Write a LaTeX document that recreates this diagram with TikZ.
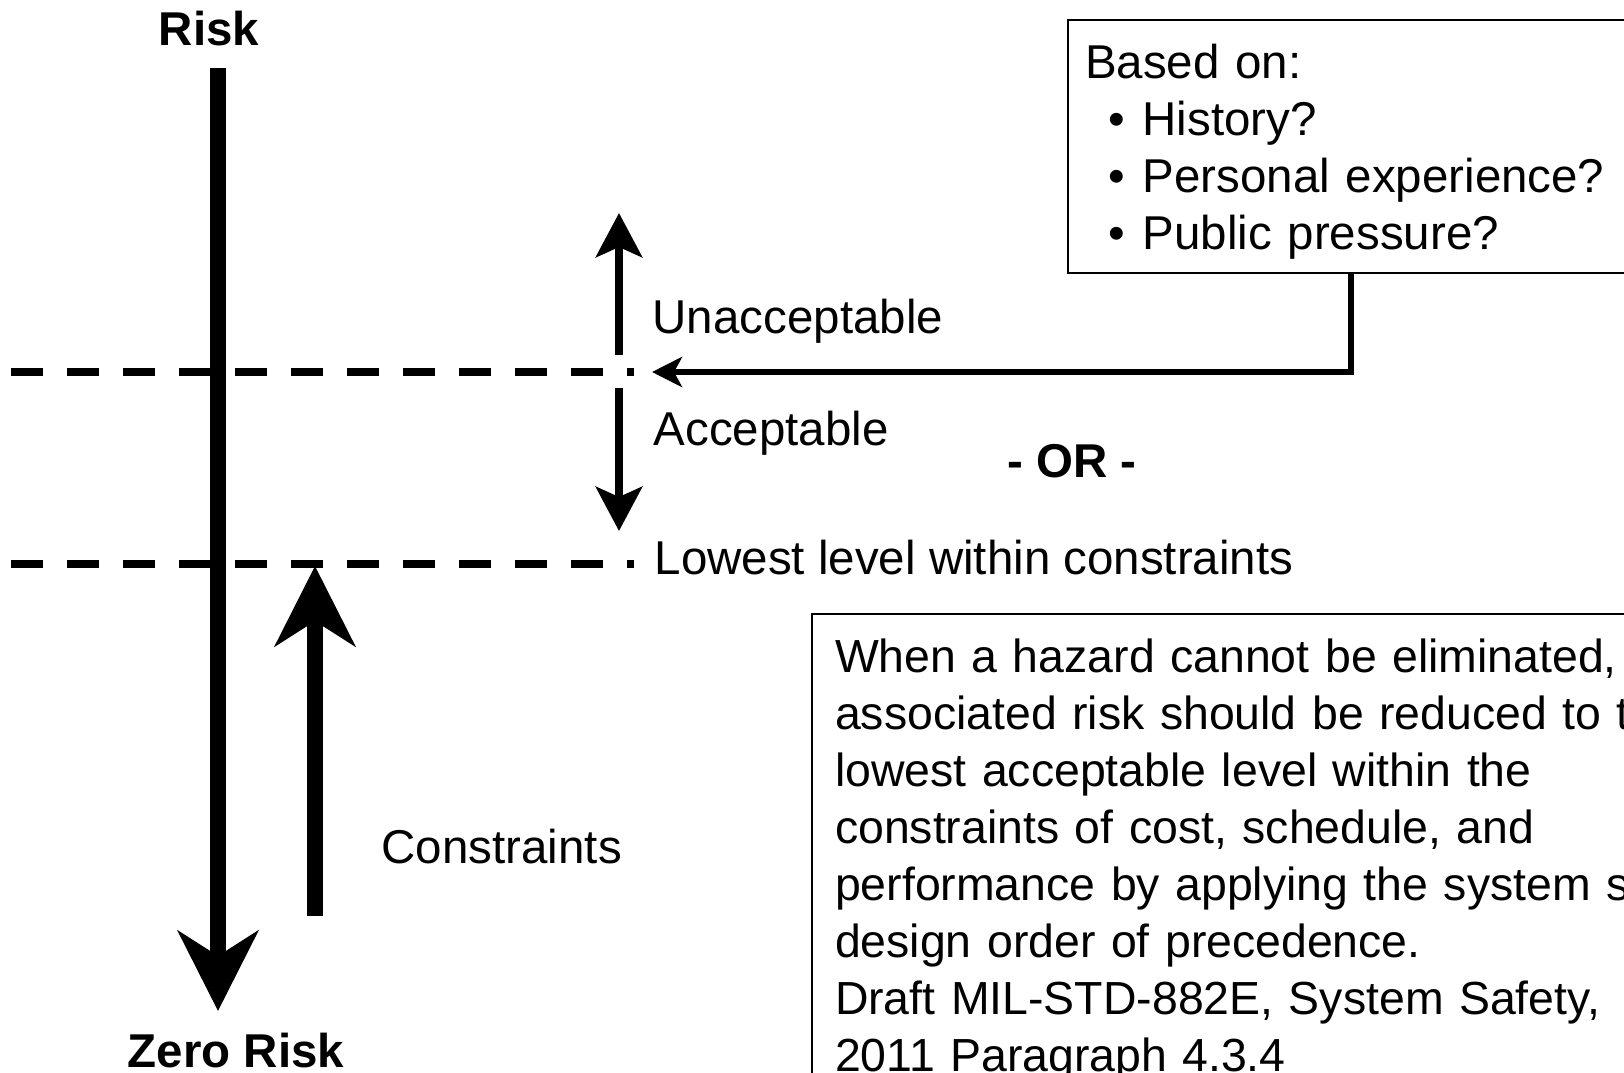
\documentclass[tikz,border=0pt]{standalone}
\usepackage{fontspec}
\setmainfont{Liberation Sans}
\usetikzlibrary{arrows.meta,positioning}

\begin{document}
\begin{tikzpicture}[x=0.01cm,y=-0.01cm,
  font=\fontsize{13.5pt}{0.57cm}\selectfont,
  bigarrow/.style={line width=0.16cm,-{Stealth[length=0.8cm,width=0.8cm,inset=0.25cm]}},
  midarrow/.style={line width=0.085cm,-{Stealth[length=0.44cm,width=0.46cm,inset=0.1cm]}},
  feed/.style={line width=0.06cm,-{Stealth[length=0.3cm,width=0.3cm,inset=0.08cm]}},
  level/.style={line width=0.08cm,dash pattern=on 0.32cm off 0.24cm},
  txt/.style={anchor=base west,inner sep=0pt},
  note/.style={draw,line width=0.02cm,anchor=north west,inner ysep=0pt,align=left}]
\useasboundingbox (0,0) rectangle (1624,1072);
\clip (0,0) rectangle (1624,1072);
\node[anchor=base,inner sep=0pt] (risk) at (209,45) {\bfseries Risk};
\node[anchor=base,inner sep=0pt] (zero) at (236,1067) {\bfseries Zero Risk};
\coordinate (rtop) at (218,68);
\coordinate (rbot) at (218,1011);
\coordinate (a1) at (11,372);
\coordinate (b1) at (634,372);
\coordinate (a2) at (11,564);
\coordinate (b2) at (634,564);
\draw[level] (a1) -- (b1);
\draw[level] (a2) -- (b2);
\draw[bigarrow] (rtop) -- (rbot);
\coordinate (cbot) at (315,916);
\coordinate (ctop) at (315,566);
\draw[bigarrow] (cbot) -- (ctop);
\node[txt] (constr) at (381,863) {Constraints};
\coordinate (u1) at (619,355);
\coordinate (u2) at (619,213);
\coordinate (d1) at (619,388);
\coordinate (d2) at (619,531);
\draw[midarrow] (u1) -- (u2);
\draw[midarrow] (d1) -- (d2);
\node[txt] (unacc) at (652,333) {Unacceptable};
\node[txt] (acc) at (653,445) {Acceptable};
\node[txt] (lowest) at (654,574) {Lowest level within constraints};
\node[anchor=base,inner sep=0pt] (or) at (1072,477) {\bfseries - OR -};
\node[note,inner xsep=0.17cm,text width=5.6cm] (based) at (1067,19)
  {\rule{0pt}{0.58cm}Based on:\\
   \hspace*{0.23cm}\textbullet\hspace{0.18cm}History?\\
   \hspace*{0.23cm}\textbullet\hspace{0.18cm}Personal experience?\\
   \hspace*{0.23cm}\textbullet\hspace{0.18cm}Public pressure?\rule[-0.24cm]{0pt}{0.24cm}};
\coordinate (thr) at (652,372);
\draw[feed] ([xshift=2.84cm]based.south west) |- (thr);
\node[note,inner xsep=0.23cm,text width=10cm,font=\fontsize{13.2pt}{0.57cm}\selectfont] (rule) at (811,613)
  {\rule{0pt}{0.58cm}When a hazard cannot be eliminated, the\\
   associated risk should be reduced to the\\
   lowest acceptable level within the\\
   constraints of cost, schedule, and\\
   performance by applying the system safety\\
   design order of precedence.\\
   Draft MIL-STD-882E, System Safety,\\
   2011 Paragraph 4.3.4\rule[-0.3cm]{0pt}{0.3cm}};
\end{tikzpicture}
\end{document}
